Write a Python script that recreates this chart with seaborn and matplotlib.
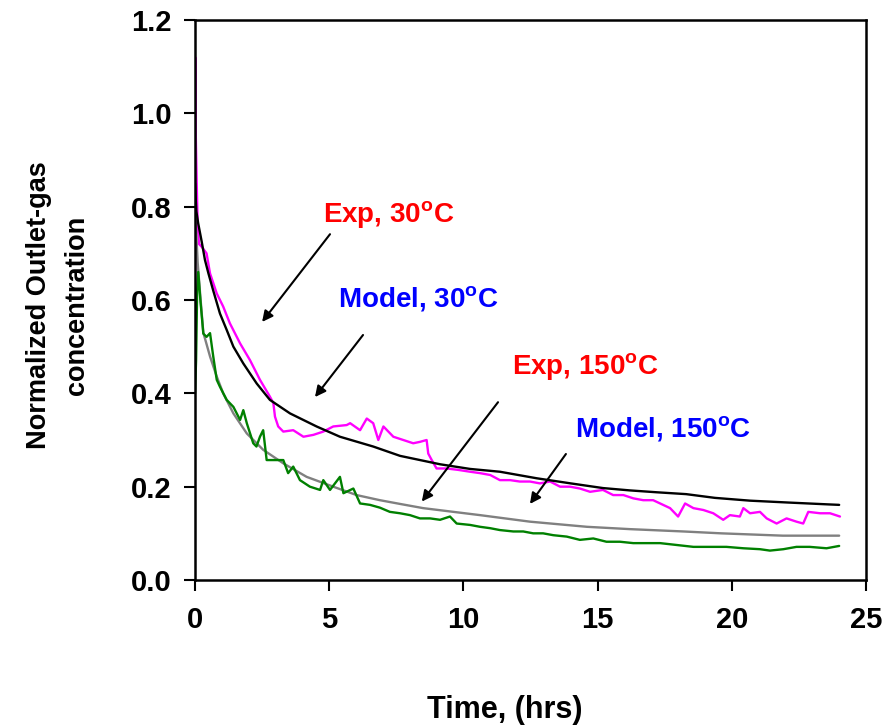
import matplotlib
matplotlib.use("Agg")
import matplotlib.pyplot as plt
import seaborn as sns
import pandas as pd

# ---------------- data ----------------
t_exp30 = [0, 0.01, 0.03, 0.06, 0.1, 0.15, 0.25, 0.43, 0.56, 0.81, 1.05, 1.3, 1.68, 2.05,
           2.42, 2.79, 2.92, 2.98, 3.1, 3.29, 3.66, 4.04, 4.41, 4.78, 5.15, 5.65, 5.78,
           6.15, 6.4, 6.64, 6.83, 7.02, 7.39, 7.76, 8.13, 8.38, 8.63, 8.69, 8.82, 9.0,
           9.37, 9.8, 10.25, 10.62, 11.0, 11.36, 11.74, 12.1, 12.48, 12.85, 13.23, 13.6,
           13.97, 14.34, 14.72, 15.2, 15.58, 15.96, 16.33, 16.7, 17.07, 17.33, 17.7, 18.0,
           18.26, 18.57, 18.94, 19.31, 19.68, 19.93, 20.3, 20.43, 20.68, 21.05, 21.3,
           21.67, 22.04, 22.41, 22.66, 22.85, 23.29, 23.66, 24.03]
c_exp30 = [0.47, 1.12, 0.95, 0.86, 0.76, 0.72, 0.714, 0.70, 0.657, 0.614, 0.586, 0.55,
           0.507, 0.471, 0.429, 0.393, 0.379, 0.35, 0.329, 0.318, 0.321, 0.307, 0.311,
           0.318, 0.329, 0.332, 0.336, 0.321, 0.346, 0.336, 0.30, 0.329, 0.307, 0.30,
           0.293, 0.296, 0.30, 0.271, 0.257, 0.239, 0.239, 0.236, 0.232, 0.229, 0.225,
           0.214, 0.214, 0.211, 0.211, 0.207, 0.211, 0.20, 0.20, 0.196, 0.189, 0.193,
           0.182, 0.182, 0.175, 0.171, 0.171, 0.164, 0.154, 0.136, 0.164, 0.154, 0.150,
           0.143, 0.129, 0.139, 0.136, 0.154, 0.143, 0.146, 0.132, 0.121, 0.132, 0.125,
           0.121, 0.146, 0.143, 0.143, 0.136]

t_mod30 = [0, 0.05, 0.12, 0.25, 0.37, 0.5, 0.68, 0.93, 1.18, 1.43, 1.8, 2.3, 2.79, 3.54,
           4.53, 5.4, 6.64, 7.64, 9.13, 10.25, 11.36, 12.73, 14.0, 15.2, 16.2, 17.2,
           18.3, 19.37, 20.68, 22.1, 23.6, 24.0]
c_mod30 = [0.85, 0.79, 0.764, 0.725, 0.686, 0.657, 0.62, 0.571, 0.536, 0.50, 0.464,
           0.421, 0.386, 0.357, 0.329, 0.307, 0.286, 0.266, 0.248, 0.238, 0.232, 0.218,
           0.207, 0.197, 0.192, 0.188, 0.184, 0.176, 0.170, 0.166, 0.162, 0.161]

t_exp150 = [0, 0.04, 0.08, 0.12, 0.2, 0.31, 0.43, 0.56, 0.68, 0.81, 0.93, 1.18, 1.43,
            1.68, 1.8, 1.93, 2.17, 2.29, 2.42, 2.54, 2.67, 3.04, 3.29, 3.47, 3.66, 3.91,
            4.28, 4.66, 4.78, 5.03, 5.4, 5.53, 5.9, 6.15, 6.52, 6.89, 7.26, 7.64, 8.01,
            8.38, 8.76, 9.13, 9.5, 9.75, 10.25, 10.62, 11.0, 11.36, 11.86, 12.23, 12.6,
            12.97, 13.35, 13.85, 14.34, 14.84, 15.33, 15.83, 16.33, 17.33, 17.95, 18.57,
            19.19, 19.8, 20.43, 21.05, 21.42, 21.92, 22.41, 22.9, 23.53, 24.0]
c_exp150 = [0.40, 0.47, 0.62, 0.66, 0.60, 0.528, 0.521, 0.529, 0.479, 0.429, 0.414,
            0.386, 0.371, 0.343, 0.364, 0.336, 0.293, 0.286, 0.307, 0.321, 0.257, 0.257,
            0.257, 0.229, 0.243, 0.214, 0.20, 0.193, 0.214, 0.193, 0.221, 0.186, 0.196,
            0.164, 0.161, 0.155, 0.146, 0.143, 0.139, 0.132, 0.132, 0.129, 0.136, 0.121,
            0.118, 0.114, 0.111, 0.107, 0.104, 0.104, 0.10, 0.10, 0.096, 0.093, 0.086,
            0.089, 0.082, 0.082, 0.079, 0.079, 0.075, 0.071, 0.071, 0.071, 0.068, 0.066,
            0.063, 0.066, 0.071, 0.071, 0.068, 0.073]

t_mod150 = [0, 0.05, 0.1, 0.19, 0.31, 0.56, 0.81, 1.05, 1.43, 1.93, 2.54, 3.29, 4.16,
            5.15, 6.02, 6.89, 7.64, 8.5, 10.62, 12.48, 14.6, 16.2, 18.2, 19.6, 21.9, 24.0]
c_mod150 = [0.78, 0.74, 0.68, 0.614, 0.53, 0.479, 0.436, 0.40, 0.357, 0.314, 0.279,
            0.25, 0.221, 0.20, 0.182, 0.171, 0.163, 0.154, 0.139, 0.125, 0.114, 0.109,
            0.104, 0.100, 0.095, 0.095]

x_ticks = [0, 5, 10, 15, 20, 25]
y_ticks = [0.0, 0.2, 0.4, 0.6, 0.8, 1.0, 1.2]

labels = [r"Exp, 30$^{\mathbf{o}}$C", r"Model, 30$^{\mathbf{o}}$C",
          r"Exp, 150$^{\mathbf{o}}$C", r"Model, 150$^{\mathbf{o}}$C"]
label_colors = ["#FF0000", "#0000FF", "#FF0000", "#0000FF"]
label_pos = [(4.77, 0.765), (5.33, 0.583), (11.81, 0.439), (14.16, 0.306)]
arrow_from = [(5.03, 0.741), (6.26, 0.525), (11.29, 0.381), (13.82, 0.270)]
arrow_to = [(2.50, 0.553), (4.47, 0.392), (8.45, 0.168), (12.48, 0.163)]

# ---------------- style ----------------
sns.set_style("white")
plt.rcParams["font.family"] = ["Liberation Sans", "DejaVu Sans"]
plt.rcParams["font.weight"] = "bold"
plt.rcParams["text.color"] = "black"
plt.rcParams["axes.labelcolor"] = "black"
plt.rcParams["mathtext.fontset"] = "custom"
plt.rcParams["mathtext.rm"] = "Liberation Sans:bold"
plt.rcParams["mathtext.bf"] = "Liberation Sans:bold"

fig = plt.figure(figsize=(8.84, 7.27), dpi=100)
ax = fig.add_axes([195 / 884, 1 - 580 / 727, 671 / 884, 560 / 727])

series = [
    (t_exp30, c_exp30, "#FF00FF"),
    (t_mod30, c_mod30, "#000000"),
    (t_mod150, c_mod150, "#808080"),
    (t_exp150, c_exp150, "#008000"),
]
for t, c, col in series:
    df = pd.DataFrame({"t": t, "c": c})
    sns.lineplot(data=df, x="t", y="c", ax=ax, color=col, lw=1.7,
                 estimator=None, sort=False)

ax.set_xlim(0, 25)
ax.set_ylim(0, 1.2)
ax.set_xticks(x_ticks)
ax.set_xticklabels([str(v) for v in x_ticks])
ax.set_yticks(y_ticks)
ax.set_yticklabels([f"{v:.1f}" for v in y_ticks])
ax.tick_params(axis="both", direction="out", length=8, width=1.5,
               labelsize=21, color="black", labelcolor="black")
ax.tick_params(axis="x", pad=11, bottom=True)
ax.tick_params(axis="y", pad=9, left=True)
for s in ax.spines.values():
    s.set_visible(True)
    s.set_color("black")
    s.set_linewidth(1.8)

ax.set_xlabel("Time, (hrs)", fontsize=22, fontweight="bold", color="black")
ax.xaxis.set_label_coords((505 - 195) / 671, (580 - 695) / 560)
ax.xaxis.label.set_va("top")
ax.set_ylabel("Normalized Outlet-gas\nconcentration", fontsize=19.5,
              fontweight="bold", linespacing=1.6, color="black")
ax.yaxis.set_label_coords((90 - 195) / 671, (580 - 305) / 560)

for txt, col, pos in zip(labels, label_colors, label_pos):
    ax.text(pos[0], pos[1], txt, color=col, fontsize=20, fontweight="bold",
            ha="left", va="baseline")
for a, b in zip(arrow_from, arrow_to):
    ax.annotate("", xy=b, xytext=a,
                arrowprops=dict(arrowstyle="-|>", color="black", lw=1.5,
                                mutation_scale=16, shrinkA=0, shrinkB=0))

fig.savefig("out.png", dpi=100)
